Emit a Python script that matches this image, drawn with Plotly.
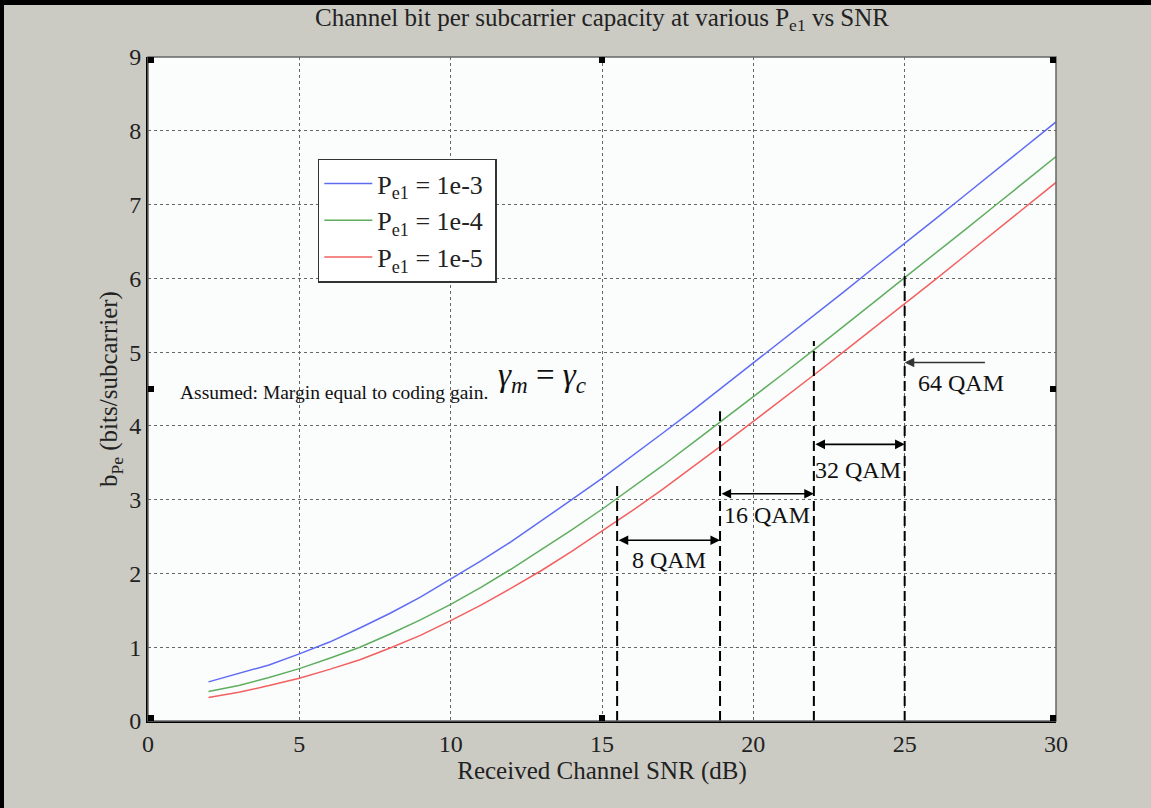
import plotly.graph_objects as go

# Received channel SNR in dB
snr_db = list(range(2, 31))

# Bits per subcarrier for each target symbol error probability
b_pe_1e3 = [0.53, 0.64, 0.76, 0.91, 1.07, 1.26, 1.46, 1.68, 1.92, 2.17,
            2.43, 2.71, 3.00, 3.29, 3.59, 3.90, 4.21, 4.53, 4.85, 5.17,
            5.49, 5.82, 6.15, 6.47, 6.80, 7.13, 7.46, 7.79, 8.12]
b_pe_1e4 = [0.40, 0.48, 0.59, 0.71, 0.85, 1.00, 1.18, 1.37, 1.58, 1.81,
            2.06, 2.32, 2.59, 2.87, 3.16, 3.46, 3.77, 4.08, 4.39, 4.71,
            5.03, 5.35, 5.68, 6.01, 6.33, 6.66, 6.99, 7.32, 7.65]
b_pe_1e5 = [0.32, 0.39, 0.48, 0.58, 0.70, 0.83, 0.99, 1.16, 1.36, 1.57,
            1.80, 2.04, 2.30, 2.57, 2.85, 3.14, 3.44, 3.75, 4.06, 4.37,
            4.69, 5.01, 5.33, 5.66, 5.98, 6.31, 6.64, 6.97, 7.30]

series_names = ["P<sub>e1</sub> = 1e-3 ", "P<sub>e1</sub> = 1e-4 ", "P<sub>e1</sub> = 1e-5 "]
series_colors = ["#5f6cf2", "#5fae5f", "#f26060"]

# QAM threshold markers (SNR in dB) and the height of each dashed line
qam_snr = [15.5, 18.9, 22.0, 25.0]
qam_top = [3.2, 4.2, 5.15, 6.15]
qam_names = ["8 QAM", "16 QAM", "32 QAM", "64 QAM"]
qam_arrow_y = [2.45, 3.08, 3.75, 4.86]
qam_label_x = [17.2, 20.45, 23.45, 26.85]
qam_label_y = [2.18, 2.79, 3.40, 4.58]
arrow_64_start = 27.7

x_ticks = [0, 5, 10, 15, 20, 25, 30]
y_ticks = list(range(0, 10))

SERIF = "Liberation Serif, Times New Roman, serif"

fig = go.Figure()
for ys, name, col in zip([b_pe_1e3, b_pe_1e4, b_pe_1e5], series_names, series_colors):
    fig.add_trace(go.Scatter(x=snr_db, y=ys, mode="lines", name=name,
                             line=dict(color=col, width=1.5)))

shapes = []
# dashed boundaries between QAM regions
for xs, top in zip(qam_snr, qam_top):
    shapes.append(dict(type="line", xref="x", yref="y", x0=xs, x1=xs, y0=0, y1=top,
                       line=dict(color="black", width=2, dash="10px,5px")))

# plot frame (top/right in gray)
shapes.append(dict(type="rect", xref="paper", yref="paper", x0=0, x1=1, y0=0, y1=1,
                   line=dict(color="#666666", width=1.5), layer="above"))

# small black handles on the frame
handles = [(0, 0, 0, 6, 0, 6), (0.5, 0, -3, 3, 0, 6), (1, 0, -6, 0, 0, 6),
           (0, 0.5, 0, 6, -3, 3), (1, 0.5, -6, 0, -3, 3),
           (0, 1, 0, 6, -6, 0), (0.5, 1, -3, 3, -6, 0), (1, 1, -6, 0, -6, 0)]
for ax_, ay_, x0, x1, y0, y1 in handles:
    shapes.append(dict(type="rect", xref="paper", yref="paper",
                       xsizemode="pixel", ysizemode="pixel",
                       xanchor=ax_, yanchor=ay_, x0=x0, x1=x1, y0=y0, y1=y1,
                       fillcolor="black", line=dict(width=0), layer="above"))

# black window edge along top and left
W, H = 1151, 808
L, R, T, B = 148, 95, 57, 87
pw, ph = W - L - R, H - T - B
shapes.append(dict(type="rect", xref="paper", yref="paper", ysizemode="pixel",
                   yanchor=1 + T / ph, y0=-5, y1=0,
                   x0=-L / pw, x1=1 + R / pw, fillcolor="black", line=dict(width=0)))
shapes.append(dict(type="rect", xref="paper", yref="paper", xsizemode="pixel",
                   xanchor=-L / pw, x0=0, x1=4,
                   y0=-B / ph, y1=1 + T / ph, fillcolor="black", line=dict(width=0)))

annotations = []
# double-headed arrows for 8/16/32 QAM ranges
for i in range(3):
    annotations.append(dict(x=qam_snr[i + 1], y=qam_arrow_y[i], ax=qam_snr[i], ay=qam_arrow_y[i],
                            xref="x", yref="y", axref="x", ayref="y", text="",
                            showarrow=True, arrowhead=2, startarrowhead=2,
                            arrowside="end+start", arrowsize=1.2, arrowwidth=1.6,
                            arrowcolor="black"))
# single arrow for 64 QAM
annotations.append(dict(x=qam_snr[3], y=qam_arrow_y[3], ax=arrow_64_start, ay=qam_arrow_y[3],
                        xref="x", yref="y", axref="x", ayref="y", text="",
                        showarrow=True, arrowhead=2, arrowsize=1.2, arrowwidth=1.6,
                        arrowcolor="#333333"))
for name, lx, ly in zip(qam_names, qam_label_x, qam_label_y):
    annotations.append(dict(x=lx, y=ly, xref="x", yref="y", text=name, showarrow=False,
                            font=dict(family=SERIF, size=24, color="#111111")))

annotations.append(dict(x=0.98, y=4.45, xref="x", yref="y", xanchor="left",
                        text="Assumed: Margin equal to coding gain.", showarrow=False,
                        font=dict(family=SERIF, size=19.5, color="#111111")))
annotations.append(dict(x=11.5, y=4.66, xref="x", yref="y", xanchor="left",
                        text="<i>γ</i><sub><i>m</i></sub> = <i>γ</i><sub><i>c</i></sub>",
                        showarrow=False,
                        font=dict(family=SERIF, size=33, color="#111111")))

fig.update_layout(
    width=W, height=H,
    margin=dict(l=L, r=R, t=T, b=B),
    paper_bgcolor="#cbcbc4",
    plot_bgcolor="#fbfcfc",
    font=dict(family=SERIF, color="#222222"),
    title=dict(text="Channel bit per subcarrier capacity at various P<sub>e1</sub> vs SNR",
               x=0.5, xref="paper", xanchor="center", y=0.99, yref="container",
               yanchor="top", font=dict(family=SERIF, size=25, color="#222222")),
    xaxis=dict(range=[0, 30], tickvals=x_ticks, ticktext=[str(v) for v in x_ticks],
               showgrid=True, gridcolor="#666666", griddash="dot", gridwidth=1,
               zeroline=False, showline=True, linecolor="black", linewidth=2,
               ticks="", tickfont=dict(family=SERIF, size=24, color="#222222"),
               title=dict(text="Received Channel SNR (dB)", standoff=2,
                          font=dict(family=SERIF, size=25, color="#222222"))),
    yaxis=dict(range=[0, 9], tickvals=y_ticks, ticktext=[str(v) for v in y_ticks],
               showgrid=True, gridcolor="#666666", griddash="dot", gridwidth=1,
               zeroline=False, showline=True, linecolor="black", linewidth=2,
               ticks="", tickfont=dict(family=SERIF, size=24, color="#222222"),
               title=dict(text="b<sub>Pe</sub> (bits/subcarrier)", standoff=4,
                          font=dict(family=SERIF, size=25, color="#222222"))),
    legend=dict(x=0.187, y=0.847, xanchor="left", yanchor="top",
                bgcolor="white", bordercolor="#333333", borderwidth=1.5,
                itemwidth=48,
                font=dict(family=SERIF, size=26, color="#222222")),
    shapes=shapes,
    annotations=annotations,
    showlegend=True,
)

fig.write_html("out.html")
